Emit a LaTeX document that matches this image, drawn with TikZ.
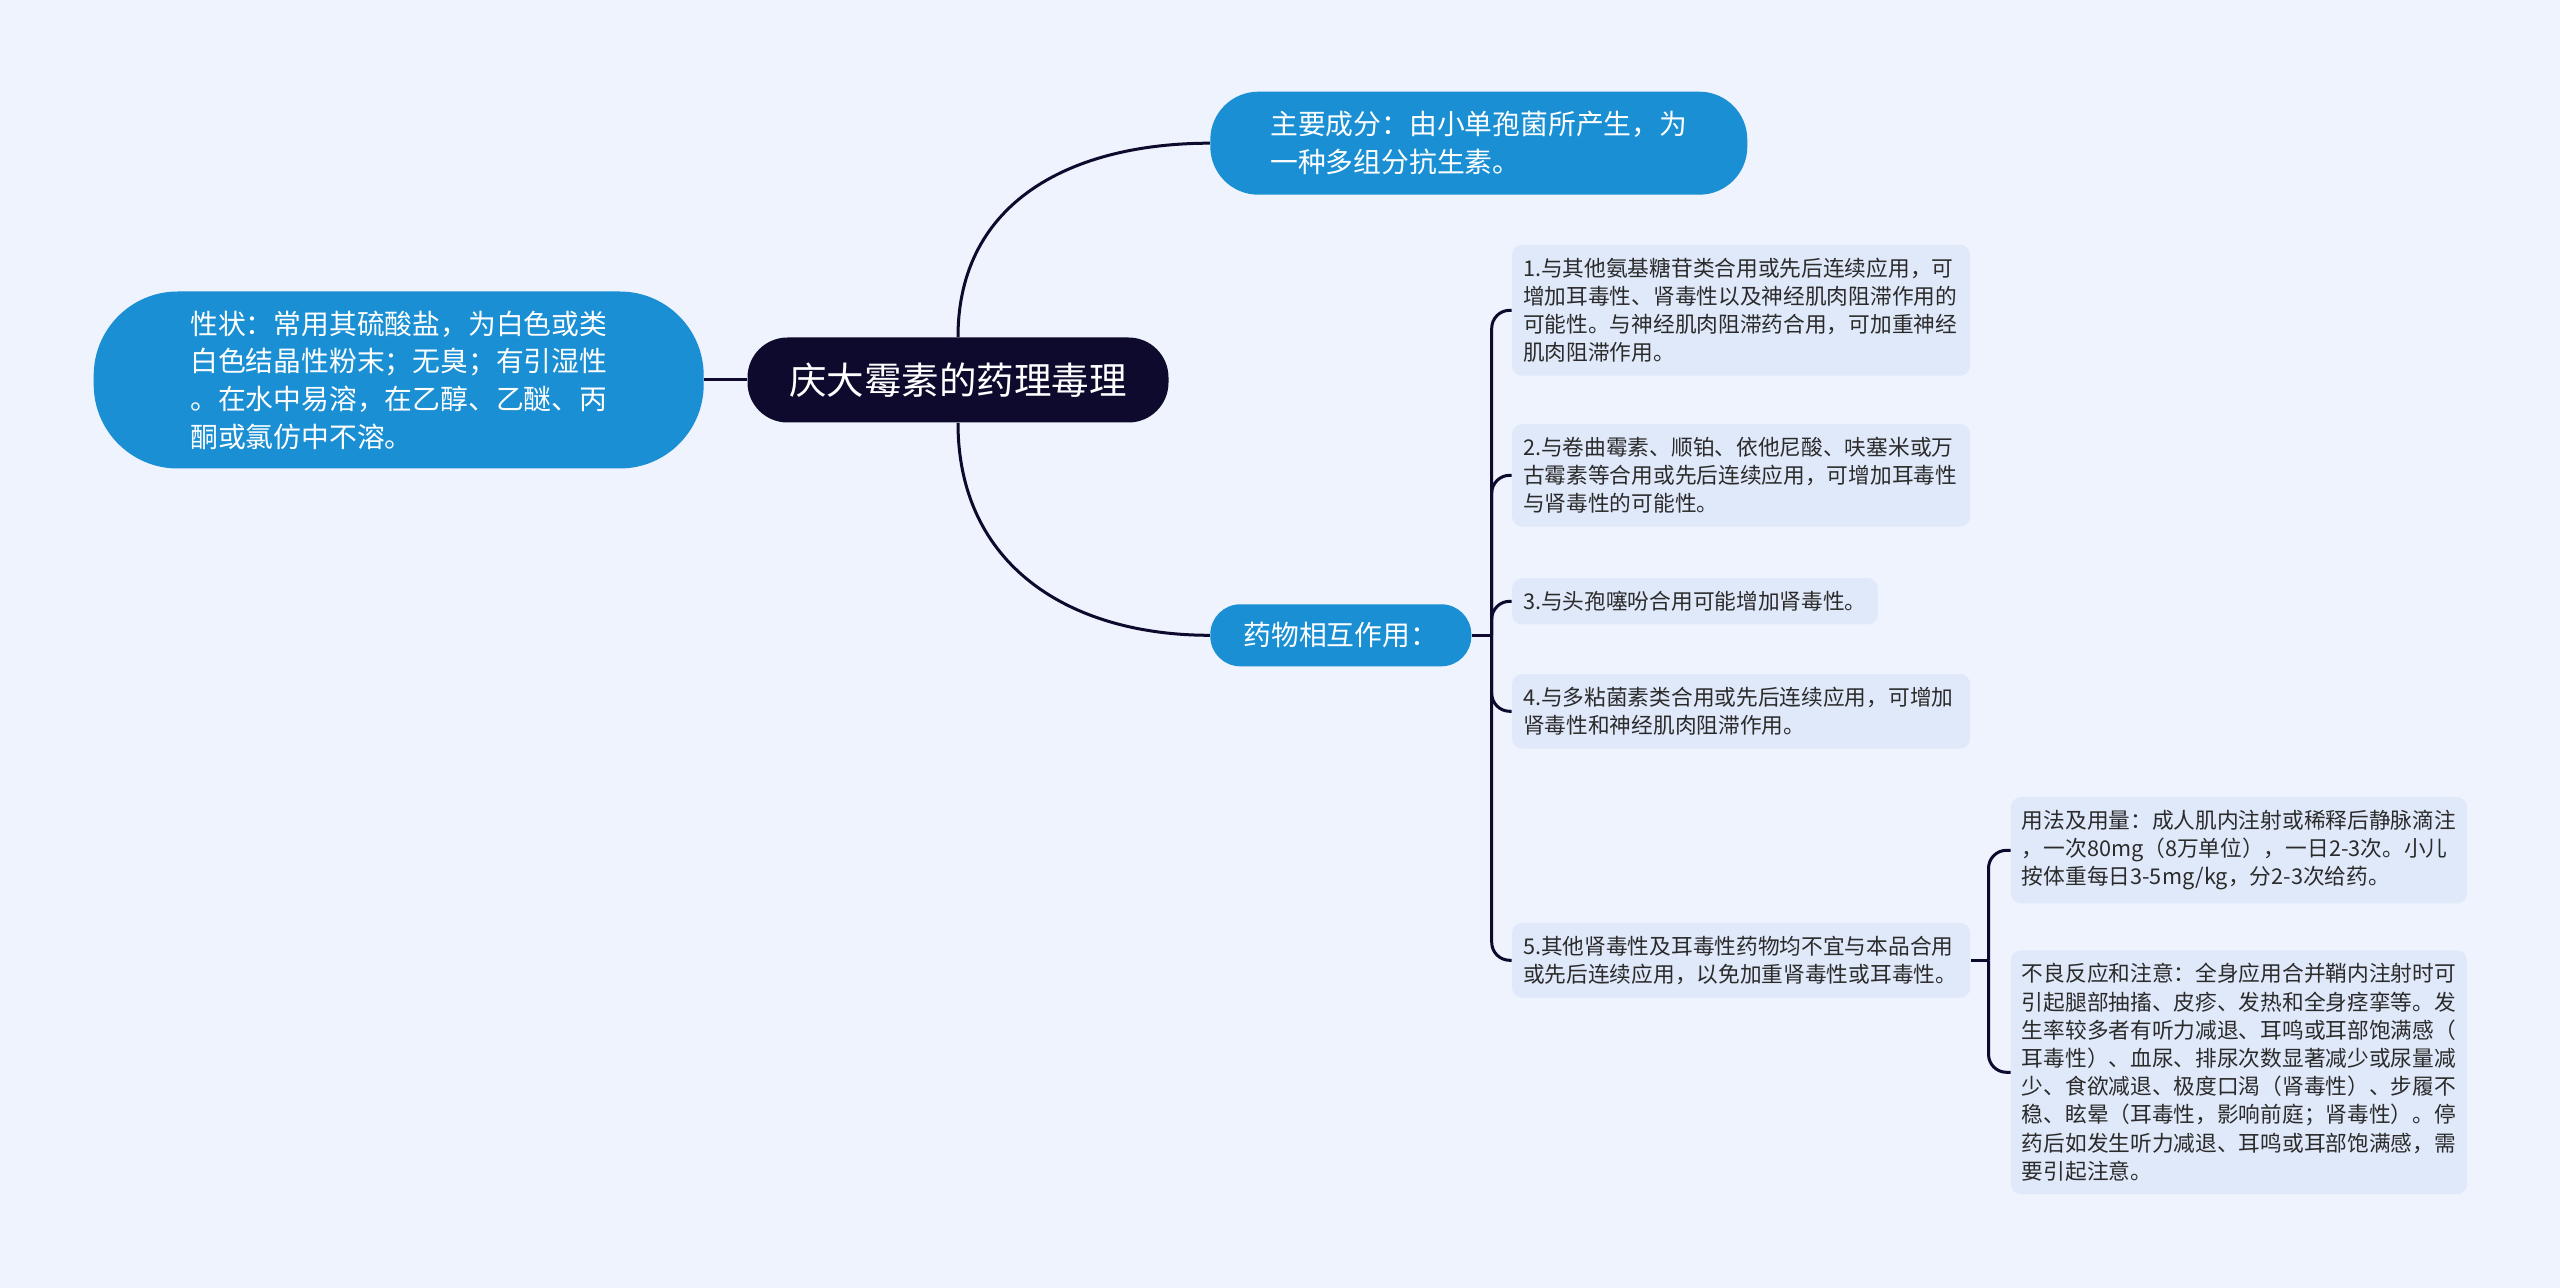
\documentclass[tikz,border=0pt]{standalone}
\usepackage{fontspec}
\setmainfont{Noto Sans CJK SC}
\usetikzlibrary{positioning}

\definecolor{paper}{HTML}{EEF3FD}
\definecolor{rootfill}{HTML}{0D0A2E}
\definecolor{topicfill}{HTML}{1A8FD3}
\definecolor{leaffill}{HTML}{E0E9FA}
\definecolor{leaftext}{HTML}{2B2B2B}

\begin{document}
\begin{tikzpicture}[node distance=20pt,
    main node/.style={rectangle, rounded corners=20pt, fill=rootfill, text=white, minimum width=210.5pt, minimum height=42.5pt, inner sep=0pt, font=\fontsize{18.75}{22}\selectfont},
    topic node/.style={rectangle, fill=topicfill, text=white, align=left, inner sep=0pt, font=\fontsize{13.9}{18.8}\selectfont},
    leaf node/.style={rectangle, rounded corners=5pt, fill=leaffill, text=leaftext, align=left, inner xsep=5.5pt, inner ysep=6.5pt, font=\fontsize{10.85}{14.1}\selectfont},
    link/.style={draw=rootfill, line width=1.5pt},
    fork/.style={rounded corners=9pt, to path={|- (\tikztotarget)}}]
        \tikzstyle{every node}=[font=\small]

          \useasboundingbox (0,0) rectangle (1280pt,-644pt);
          \fill[paper] (0,0) rectangle (1280pt,-644pt);

          \node[main node] (1) at (479pt,-190pt) {庆大霉素的药理毒理};
          \node[topic node, rounded corners=42pt, minimum width=305pt, minimum height=88.5pt] (2) [left=21.5pt of 1] {性状：常用其硫酸盐，为白色或类\\白色结晶性粉末；无臭；有引湿性\\。在水中易溶，在乙醇、乙醚、丙\\酮或氯仿中不溶。};
          \node[topic node, rounded corners=24pt, minimum width=268.5pt, minimum height=51.5pt] (3) [above right=71pt and 20.5pt of 1] {主要成分：由小单孢菌所产生，为\\一种多组分抗生素。};
          \node[topic node, rounded corners=15pt, minimum width=130.5pt, minimum height=31pt] (4) [below right=90.5pt and 20.5pt of 1] {药物相互作用：};

          \node[leaf node, text width=218pt] (5) [right=20pt of 4, yshift=162.5pt] {1.与其他氨基糖苷类合用或先后连续应用，可\\增加耳毒性、肾毒性以及神经肌肉阻滞作用的\\可能性。与神经肌肉阻滞药合用，可加重神经\\肌肉阻滞作用。};
          \node[leaf node, text width=218pt] (6) [right=20pt of 4, yshift=80pt] {2.与卷曲霉素、顺铂、依他尼酸、呋塞米或万\\古霉素等合用或先后连续应用，可增加耳毒性\\与肾毒性的可能性。};
          \node[leaf node] (7) [right=20pt of 4, yshift=17pt] {3.与头孢噻吩合用可能增加肾毒性。};
          \node[leaf node, text width=218pt] (8) [right=20pt of 4, yshift=-38pt] {4.与多粘菌素类合用或先后连续应用，可增加\\肾毒性和神经肌肉阻滞作用。};
          \node[leaf node, text width=218pt] (9) [right=20pt of 4, yshift=-162.5pt] {5.其他肾毒性及耳毒性药物均不宜与本品合用\\或先后连续应用，以免加重肾毒性或耳毒性。};

          \node[leaf node, text width=217pt] (10) [right=20pt of 9, yshift=55pt] {用法及用量：成人肌内注射或稀释后静脉滴注\\，一次80mg（8万单位），一日2-3次。小儿\\按体重每日3-5mg/kg，分2-3次给药。};
          \node[leaf node, text width=217pt] (11) [right=20pt of 9, yshift=-56pt] {不良反应和注意：全身应用合并鞘内注射时可\\引起腿部抽搐、皮疹、发热和全身痉挛等。发\\生率较多者有听力减退、耳鸣或耳部饱满感（\\耳毒性）、血尿、排尿次数显著减少或尿量减\\少、食欲减退、极度口渴（肾毒性）、步履不\\稳、眩晕（耳毒性，影响前庭；肾毒性）。停\\药后如发生听力减退、耳鸣或耳部饱满感，需\\要引起注意。};

          \coordinate[right=10pt of 4] (a);
          \coordinate[right=9pt of 9] (b);

          \path[link]
            (1) edge (2)
                edge[out=90, in=180, looseness=1.1] (3)
                edge[out=-90, in=180, looseness=1.1] (4)
            (4) edge (a)
            (a) edge[fork] (5)
                edge[fork] (6)
                edge[fork] (7)
                edge[fork] (8)
                edge[fork] (9)
            (9) edge (b)
            (b) edge[fork] (10)
                edge[fork] (11);

        \end{tikzpicture}
\end{document}
